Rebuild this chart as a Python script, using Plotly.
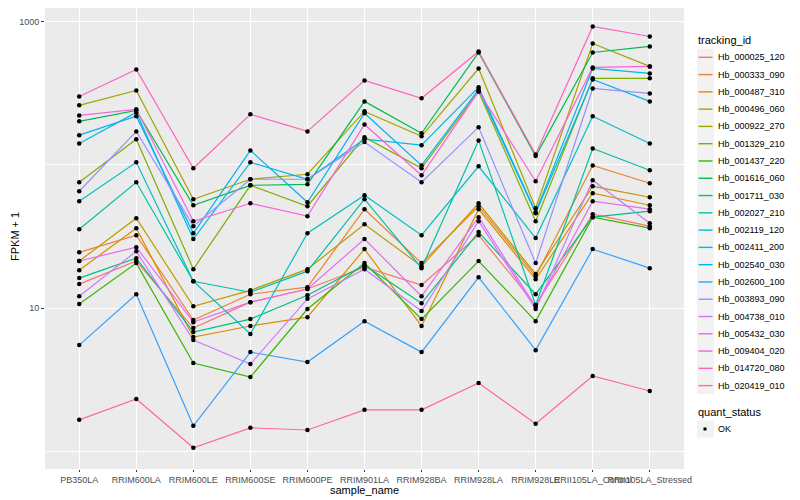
import plotly.graph_objects as go

samples = ["PB350LA", "RRIM600LA", "RRIM600LE", "RRIM600SE", "RRIM600PE", "RRIM901LA",
           "RRIM928BA", "RRIM928LA", "RRIM928LE", "RRII105LA_Control", "RRII105LA_Stressed"]

tracking_ids = ["Hb_000025_120", "Hb_000333_090", "Hb_000487_310", "Hb_000496_060", "Hb_000922_270",
                "Hb_001329_210", "Hb_001437_220", "Hb_001616_060", "Hb_001711_030", "Hb_002027_210",
                "Hb_002119_120", "Hb_002411_200", "Hb_002540_030", "Hb_002600_100", "Hb_003893_090",
                "Hb_004738_010", "Hb_005432_030", "Hb_009404_020", "Hb_014720_080", "Hb_020419_010"]

colors = ["#F8766D", "#EA8331", "#D89000", "#C09B00", "#A3A500", "#7CAE00", "#39B600", "#00BB4E",
          "#00BF7D", "#00C1A3", "#00BFC4", "#00BAE0", "#00B0F6", "#35A2FF", "#9590FF", "#C77CFF",
          "#E76BF3", "#FA62DB", "#FF62BC", "#FF6C90"]

# FPKM + 1 per sample (order of `samples`)
Hb_000025_120 = [14.7, 21.3, 7.26, 11.0, 13.6, 19.3, 14.5, 32.3, 10.5, 45.2, 37.3]
Hb_000333_090 = [24.5, 32.3, 8.25, 12.5, 14.0, 49.0, 20.6, 51.4, 16.7, 99.0, 74.3]
Hb_000487_310 = [18.4, 36.1, 6.28, 7.50, 8.65, 25.8, 7.50, 49.0, 15.9, 63.3, 52.2]
Hb_000496_060 = [21.3, 42.4, 10.3, 13.3, 18.7, 38.5, 19.6, 53.9, 17.3, 70.8, 59.4]
Hb_000922_270 = [260, 330, 57.5, 79.3, 85.9, 236, 158, 470, 49.8, 703, 486]
Hb_001329_210 = [75.5, 151, 18.7, 71.9, 51.4, 156, 94.6, 325, 40.4, 401, 401]
Hb_001437_220 = [10.7, 20.6, 4.14, 3.30, 9.85, 20.6, 8.38, 21.3, 8.11, 43.1, 36.1]
Hb_001616_060 = [201, 240, 52.2, 71.9, 73.1, 277, 166, 608, 115, 608, 670]
Hb_001711_030 = [16.2, 22.3, 6.81, 8.38, 12.3, 19.9, 10.8, 33.9, 12.5, 43.1, 47.5]
Hb_002027_210 = [35.5, 75.5, 15.4, 12.9, 18.1, 57.5, 19.0, 148, 10.5, 130, 91.6]
Hb_002119_120 = [55.7, 104, 15.4, 6.59, 33.3, 61.3, 32.3, 97.6, 30.8, 218, 141]
Hb_002411_200 = [141, 232, 30.3, 104, 79.3, 151, 137, 347, 46.7, 470, 434]
Hb_002540_030 = [161, 218, 33.3, 126, 54.8, 229, 99.0, 336, 45.9, 394, 277]
Hb_002600_100 = [5.52, 12.5, 1.51, 4.93, 4.20, 8.11, 4.93, 16.4, 5.09, 25.8, 19.0]
Hb_003893_090 = [65.4, 171, 37.3, 79.3, 79.3, 144, 75.5, 183, 20.6, 341, 315]
Hb_004738_010 = [12.1, 24.9, 5.98, 4.07, 11.6, 18.7, 9.53, 40.4, 9.85, 78.0, 39.1]
Hb_005432_030 = [21.3, 26.6, 7.98, 11.0, 13.6, 30.3, 12.1, 43.1, 10.2, 55.7, 49.0]
Hb_009404_020 = [221, 244, 40.4, 53.9, 43.8, 191, 84.5, 325, 76.8, 478, 486]
Hb_014720_080 = [300, 463, 94.6, 225, 171, 388, 291, 618, 118, 923, 786]
Hb_020419_010 = [1.66, 2.32, 1.06, 1.46, 1.41, 1.95, 1.95, 3.00, 1.56, 3.36, 2.64]

series = [Hb_000025_120, Hb_000333_090, Hb_000487_310, Hb_000496_060, Hb_000922_270,
          Hb_001329_210, Hb_001437_220, Hb_001616_060, Hb_001711_030, Hb_002027_210,
          Hb_002119_120, Hb_002411_200, Hb_002540_030, Hb_002600_100, Hb_003893_090,
          Hb_004738_010, Hb_005432_030, Hb_009404_020, Hb_014720_080, Hb_020419_010]

y_ticks = [10, 1000]
y_tick_labels = ["10", "1000"]
y_minor = [1, 100]

FONT = "Liberation Sans, Arial, sans-serif"

fig = go.Figure()
for name, vals, col in zip(tracking_ids, series, colors):
    fig.add_trace(go.Scatter(x=samples, y=vals, mode="lines", name=name,
                             line=dict(color=col, width=1.2), showlegend=False,
                             hoverinfo="skip"))
for name, vals in zip(tracking_ids, series):
    fig.add_trace(go.Scatter(x=samples, y=vals, mode="markers", name=name,
                             marker=dict(color="black", size=4.5), showlegend=False))

# page offset (browser body margin) and panel geometry in window pixels
OFF = 8
FW, FH = 800 - OFF, 500 - OFF
PL, PR, PT, PB = 45, 684, OFF, 469
def px(X):
    return (X - PL) / (PR - PL)
def py(Y):
    return (PB - Y) / (PB - PT)

shapes = []
annotations = []
def text(t, X, Y, size, anchor="left", angle=0):
    annotations.append(dict(text=t, x=px(X), y=py(Y), xref="paper", yref="paper",
                            xanchor=anchor, yanchor="middle", showarrow=False, textangle=angle,
                            font=dict(family=FONT, size=size, color="black")))

text("tracking_id", 696, 40, 11)
step = 17.28
y0 = 57.3
for i, (name, col) in enumerate(zip(tracking_ids, colors)):
    yc = y0 + i * step
    shapes.append(dict(type="rect", xref="paper", yref="paper",
                       x0=px(697), x1=px(714), y0=py(yc - step / 2), y1=py(yc + step / 2),
                       fillcolor="#F2F2F2", line=dict(width=0), layer="above"))
    shapes.append(dict(type="line", xref="paper", yref="paper",
                       x0=px(698.5), x1=px(712.5), y0=py(yc), y1=py(yc),
                       line=dict(color=col, width=1.4), layer="above"))
    text(name, 716, yc, 9)

text("quant_status", 696, 412, 11)
shapes.append(dict(type="rect", xref="paper", yref="paper",
                   x0=px(697), x1=px(714), y0=py(429 - step / 2), y1=py(429 + step / 2),
                   fillcolor="#F2F2F2", line=dict(width=0), layer="above"))
shapes.append(dict(type="rect", xref="paper", yref="paper",
                   x0=px(703.5), x1=px(706.5), y0=py(427.5), y1=py(430.5),
                   fillcolor="black", line=dict(width=0), layer="above"))
text("OK", 716, 429, 9)

text("sample_name", 364, 490, 11, anchor="center")
text("FPKM + 1", 15, 237, 11, anchor="center", angle=-90)

ylo = 3 - (PB - 21.5) / 143.3
yhi = 3 + (21.5 - PT) / 143.3

fig.update_layout(
    width=FW, height=FH,
    margin=dict(l=PL - OFF, r=FW - (PR - OFF), t=0, b=FH - (PB - OFF), autoexpand=False),
    paper_bgcolor="white", plot_bgcolor="#EBEBEB",
    font=dict(family=FONT, size=9, color="#4D4D4D"),
    showlegend=False,
    shapes=shapes, annotations=annotations,
    xaxis=dict(type="category", categoryorder="array", categoryarray=samples,
               range=[-0.6, len(samples) - 0.4], showgrid=True, gridcolor="white", gridwidth=1.4,
               zeroline=False, showline=False, ticks="outside", ticklen=2, tickwidth=1,
               tickcolor="#333333", tickangle=0, automargin=False,
               tickfont=dict(family=FONT, size=9, color="#4D4D4D")),
    yaxis=dict(type="log", range=[ylo, yhi], tickvals=y_ticks, ticktext=y_tick_labels,
               showgrid=True, gridcolor="white", gridwidth=1.4, zeroline=False, showline=False,
               ticks="outside", ticklen=3, tickwidth=1, tickcolor="#333333", automargin=False,
               tickfont=dict(family=FONT, size=9, color="#4D4D4D"),
               minor=dict(tickvals=y_minor, showgrid=True, gridcolor="white", gridwidth=0.7, ticklen=0)),
)

fig.write_html("out.html")
